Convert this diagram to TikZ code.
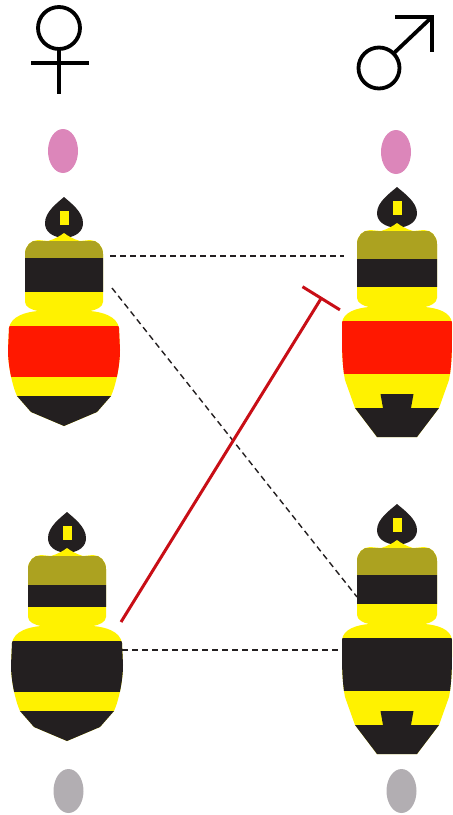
\documentclass[tikz,border=0pt]{standalone}
\usetikzlibrary{arrows.meta}

\definecolor{beeyellow}{RGB}{255,242,0}
\definecolor{beeolive}{RGB}{172,162,32}
\definecolor{beeblack}{RGB}{35,31,32}
\definecolor{beered}{RGB}{255,24,0}
\definecolor{eggpink}{RGB}{220,134,186}
\definecolor{egggray}{RGB}{178,174,178}
\definecolor{inhibit}{RGB}{200,14,22}

\tikzset{
  sexsign/.style={line width=3.8pt, draw=black, line cap=butt, miter limit=10},
  pairing/.style={draw=beeblack, line width=1.4pt, dash pattern=on 6pt off 4pt},
  blocker/.style={draw=inhibit, line width=3pt, -{Bar[width=44pt,line width=3pt]}},
}

% head with its small yellow mark, drawn around local origin (thorax top)
\newcommand{\beehead}[1]{%
  \fill[beeblack] (0,-43) .. controls (7,-37) and (#1,-28) .. (#1,-17)
    .. controls (#1,-9) and (13,-3) .. (0,-2)
    .. controls (-13,-3) and (-#1,-9) .. (-#1,-17)
    .. controls (-#1,-28) and (-7,-37) .. (0,-43) -- cycle;
  \fill[beeyellow] (-4.5,-29) rectangle (4.5,-15);
}

% female: #1 centre x, #2 thorax top y, #3 olive/black boundary, #4 abdomen band colour
\newcommand{\femalebee}[4]{%
  \begin{scope}[shift={(#1,#2)}]
    \beehead{19}
    \def\outline{(-16,1) .. controls (-9,-1) and (-4,-4) .. (0,-7)
      .. controls (4,-4) and (9,-1) .. (16,1) -- (26,0)
      .. controls (33,0) and (39,6) .. (39,14) -- (39,62)
      .. controls (39,67) and (32,70) .. (26,71)
      .. controls (38,72) and (53,76) .. (55,88) -- (56,110)
      .. controls (56,125) and (52,145) .. (47,156) -- (33,172) -- (0,186)
      -- (-33,172) -- (-47,156)
      .. controls (-52,145) and (-56,125) .. (-56,110) -- (-55,88)
      .. controls (-53,76) and (-38,72) .. (-26,71)
      .. controls (-32,70) and (-39,67) .. (-39,62) -- (-39,14)
      .. controls (-39,6) and (-33,0) .. (-26,0) -- cycle}
    \fill[beeyellow] \outline;
    \begin{scope}
      \clip \outline;
      \fill[beeolive] (-60,1) rectangle (60,#3);
      \fill[beeblack] (-60,#3) rectangle (60,52);
      \fill[#4] (-60,86) rectangle (60,137);
      \fill[beeblack] (-60,156) rectangle (60,200);
    \end{scope}
  \end{scope}
}

% male: #1 centre x, #2 thorax top y, #3 olive/black boundary, #4 abdomen band colour
\newcommand{\malebee}[4]{%
  \begin{scope}[shift={(#1,#2)}]
    \beehead{20}
    \def\outline{(-16,1) .. controls (-9,-1) and (-4,-4) .. (0,-7)
      .. controls (4,-4) and (9,-1) .. (16,1) -- (27,0)
      .. controls (34,0) and (40,6) .. (40,14) -- (40,68)
      .. controls (40,73) and (33,76) .. (28,77)
      .. controls (40,78) and (54,82) .. (55,93) -- (55,110)
      .. controls (55,125) and (54,140) .. (52,150) -- (42,178) -- (20,207)
      -- (-20,207) -- (-42,178) -- (-52,150)
      .. controls (-54,140) and (-55,125) .. (-55,110) -- (-55,93)
      .. controls (-54,82) and (-40,78) .. (-28,77)
      .. controls (-33,76) and (-40,73) .. (-40,68) -- (-40,14)
      .. controls (-40,6) and (-34,0) .. (-27,0) -- cycle}
    \fill[beeyellow] \outline;
    \begin{scope}
      \clip \outline;
      \fill[beeolive] (-60,1) rectangle (60,#3);
      \fill[beeblack] (-60,#3) rectangle (60,57);
      \fill[#4] (-60,91) rectangle (60,144);
      \fill[beeblack] (-16.5,164) -- (16.5,164) -- (14,178) -- (60,178)
        -- (60,220) -- (-60,220) -- (-60,178) -- (-14,178) -- cycle;
    \end{scope}
  \end{scope}
}

\begin{document}
\begin{tikzpicture}[x=1pt,y=-1pt]
  \useasboundingbox (0,0) rectangle (453,815);

  % sex symbols
  \draw[sexsign] (59,28) circle[radius=21];
  \draw[sexsign] (59,49) -- (59,94);
  \draw[sexsign] (31,63) -- (89,63);
  \draw[sexsign] (379,68) circle[radius=20.5];
  \draw[sexsign] (393.5,53.5) -- (432,17);
  \draw[sexsign] (395,17) -- (432,17) -- (432,52);

  % eggs
  \fill[eggpink] (63,151) ellipse[x radius=15, y radius=22];
  \fill[eggpink] (396,152) ellipse[x radius=15, y radius=22];
  \fill[egggray] (68.5,791) ellipse[x radius=15, y radius=22];
  \fill[egggray] (401.5,791) ellipse[x radius=15, y radius=22];

  % bees
  \femalebee{64}{240}{18}{beered}
  \femalebee{67}{555}{30}{beeblack}
  \malebee{397}{230}{29}{beered}
  \malebee{397}{547}{28}{beeblack}

  % connector ends
  \coordinate (ft-right) at (110,256);
  \coordinate (ft-diag)  at (112,288);
  \coordinate (mt-left)  at (344,256);
  \coordinate (mt-block) at (322,297);
  \coordinate (fb-red)   at (121,622);
  \coordinate (fb-right) at (122,650);
  \coordinate (mb-diag)  at (357,597);
  \coordinate (mb-left)  at (339,650);

  \draw[pairing] (ft-right) -- (mt-left);
  \draw[pairing] (ft-diag) -- (mb-diag);
  \draw[pairing] (fb-right) -- (mb-left);
  \draw[blocker] (fb-red) -- (mt-block);
\end{tikzpicture}
\end{document}
